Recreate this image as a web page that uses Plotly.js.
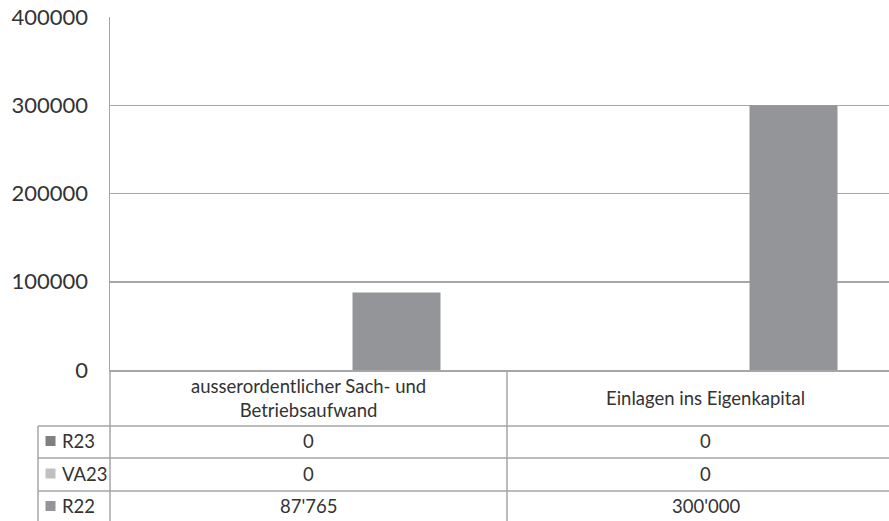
<!DOCTYPE html>
<html>
<head>
<meta charset="utf-8">
<script src="https://cdn.plot.ly/plotly-3.0.1.min.js"></script>
<style>
html,body{margin:0;padding:0;background:#fff;}
#chart{width:889px;height:521px;}
</style>
</head>
<body>
<div id="chart"></div>
<script>
// ---- data ----
var categories = ["ausserordentlicher Sach- und<br>Betriebsaufwand", "Einlagen ins Eigenkapital"];
var seriesNames = ["R23", "VA23", "R22"];
var R23 = [0, 0];
var VA23 = [0, 0];
var R22 = [87765, 300000];
var yTicks = [0, 100000, 200000, 300000, 400000];
var yTickLabels = ["0", "100000", "200000", "300000", "400000"];

var seriesValues = [R23, VA23, R22];
var seriesColors = ["#808083", "#c0c0c2", "#939598"];

function fmt(v) {
  return String(Math.round(v)).replace(/\B(?=(\d{3})+(?!\d))/g, "'");
}

var FONT = "Lato, Open Sans, DejaVu Sans, sans-serif";
var TXT = "#333333";
var LINE = "#a6a6a8";
var TFS = 18.5;

var W = 889, H = 521;
var mL = 110, mR = 0, mT = 17, mB = 151;
var plotH = H - mT - mB;
var plotW = W - mL - mR;
var rowTop = [426, 458, 491];
var rowBottom = [458, 491, 521];
function py(pix) { return 1 - (pix - mT) / plotH; }
function pxp(pix) { return (pix - mL) / plotW; }

var xIdx = [0, 1];
var traces = seriesNames.map(function (n, i) {
  return {
    type: "bar", name: n, x: xIdx, y: seriesValues[i],
    marker: { color: seriesColors[i] }, hoverinfo: "skip"
  };
});

var shapes = [];
var annotations = [];
function hline(ypix, x0, x1) {
  shapes.push({ type: "line", xref: "paper", yref: "paper", x0: x0, x1: x1, y0: py(ypix), y1: py(ypix), line: { color: LINE, width: 1.5 } });
}
function vlinePaper(xp, y0pix, y1pix) {
  shapes.push({ type: "line", xref: "paper", yref: "paper", x0: xp, x1: xp, y0: py(y0pix), y1: py(y1pix), line: { color: LINE, width: 1.5 } });
}
function vlineX(xv, y0pix, y1pix) {
  shapes.push({ type: "line", xref: "x", yref: "paper", x0: xv, x1: xv, y0: py(y0pix), y1: py(y1pix), line: { color: LINE, width: 1.5 } });
}
var legLeft = pxp(38);
hline(426, legLeft, 1);
hline(458, legLeft, 1);
hline(491, legLeft, 1);
vlinePaper(0, 370, 521);
vlinePaper(legLeft, 426, 521);
vlineX(0.5, 370, 521);

categories.forEach(function (c, j) {
  annotations.push({
    xref: "x", yref: "paper", x: xIdx[j], y: py(398), text: c, showarrow: false,
    font: { family: FONT, size: TFS, color: TXT }, align: "center",
    xanchor: "center", yanchor: "middle"
  });
});
seriesNames.forEach(function (n, i) {
  var yc = (rowTop[i] + rowBottom[i]) / 2 - 1;
  if (i === 2) yc = 506;
  shapes.push({ type: "rect", xref: "paper", yref: "paper",
    x0: pxp(45.5), x1: pxp(55.5),
    y0: py(yc - 5), y1: py(yc + 5), fillcolor: seriesColors[i], line: { width: 0 } });
  annotations.push({
    xref: "paper", yref: "paper", x: pxp(60), y: py(yc), text: n, showarrow: false,
    font: { family: FONT, size: TFS, color: TXT }, xanchor: "left", yanchor: "middle"
  });
  seriesValues[i].forEach(function (v, j) {
    annotations.push({
      xref: "x", yref: "paper", x: xIdx[j], y: py(yc), text: fmt(v), showarrow: false,
      font: { family: FONT, size: TFS, color: TXT }, xanchor: "center", yanchor: "middle"
    });
  });
});

var catW = 397;
var layout = {
  width: W, height: H,
  margin: { l: mL, r: mR, t: mT, b: mB, pad: 0 },
  paper_bgcolor: "#ffffff", plot_bgcolor: "#ffffff",
  showlegend: false,
  barmode: "group", bargap: 0.335, bargroupgap: 0,
  xaxis: {
    range: [-0.5, -0.5 + plotW / catW], showticklabels: false, ticks: "",
    showgrid: false, zeroline: false, showline: true, linecolor: LINE, linewidth: 1.5,
    fixedrange: true
  },
  yaxis: {
    range: [0, 400000], tickvals: yTicks, ticktext: yTickLabels,
    showgrid: true, gridcolor: LINE, gridwidth: 1.5, zeroline: false,
    showline: true, linecolor: LINE, linewidth: 1.5, ticks: "",
    ticklabelstandoff: 16,
    tickfont: { family: FONT, size: 22, color: TXT }, fixedrange: true
  },
  shapes: shapes,
  annotations: annotations
};

Plotly.newPlot("chart", traces, layout, { displayModeBar: false, staticPlot: true });
</script>
</body>
</html>
